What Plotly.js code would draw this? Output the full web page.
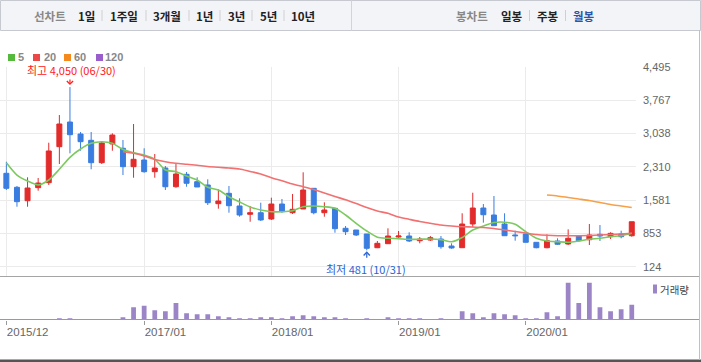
<!DOCTYPE html>
<html>
<head>
<meta charset="utf-8">
<script src="https://cdn.plot.ly/plotly-3.0.1.min.js"></script>
<style>
html,body{margin:0;padding:0;background:#fff;}
#chart{width:701px;height:362px;}
</style>
</head>
<body>
<div id="chart"></div>
<script>
// ---- data (monthly, 2015/12 .. 2020/11) ----
const months = ['2015/12',
 '2016/01','2016/02','2016/03','2016/04','2016/05','2016/06','2016/07','2016/08','2016/09','2016/10','2016/11','2016/12',
 '2017/01','2017/02','2017/03','2017/04','2017/05','2017/06','2017/07','2017/08','2017/09','2017/10','2017/11','2017/12',
 '2018/01','2018/02','2018/03','2018/04','2018/05','2018/06','2018/07','2018/08','2018/09','2018/10','2018/11','2018/12',
 '2019/01','2019/02','2019/03','2019/04','2019/05','2019/06','2019/07','2019/08','2019/09','2019/10','2019/11','2019/12',
 '2020/01','2020/02','2020/03','2020/04','2020/05','2020/06','2020/07','2020/08','2020/09','2020/10','2020/11'];

const openP  = [2165,1859,1566,1851,1960,2747,3286,3024,2886,2397,2806,2712,2310,2456,2200,2281,1872,2143,1982,1910,1501,1728,1451,1269,1304,1166,1494,1304,1385,1837,1304,1400,963,926,839,539,627,773,795,692,707,729,576,539,1057,1407,1254,1057,817,839,657,539,686,620,795,714,832,780,839,801];
const highP  = [2419,1888,2078,2063,2834,3439,4050,3068,3068,2856,3039,2893,3243,2712,2587,2325,2368,2194,2078,2034,1815,1888,1619,1451,1523,1632,1604,1713,2187,1837,1531,1413,1013,926,839,686,963,904,876,773,795,795,635,1291,1741,1494,1669,1291,911,853,657,832,745,941,817,1057,1035,876,911,1107];
const lowP   = [1800,1435,1435,1785,1910,2368,2602,2659,2253,2368,2659,2128,2069,2178,2069,1800,1851,1872,1866,1472,1392,1304,1217,1107,1123,1145,1304,1276,1385,1269,1217,867,817,795,481,530,627,758,664,635,686,517,517,539,985,1086,1020,801,692,657,526,526,598,598,670,598,686,729,745,780];
const closeP = [1837,1545,1844,1953,2653,3243,3009,2856,2397,2827,3002,2310,2471,2200,2281,1872,2150,1947,1866,1523,1560,1457,1254,1304,1145,1494,1326,1378,1800,1304,1363,955,889,817,526,635,795,795,686,729,758,561,533,1057,1407,1260,1020,801,801,657,539,692,614,745,692,817,795,853,780,1107];

const ma5 = [2397,2128,1997,1910,2019,2253,2515,2696,2821,2856,2821,2685,2615,2565,2471,2237,2200,2106,2019,1859,1800,1654,1538,1429,1363,1326,1326,1348,1435,1451,1435,1400,1254,1073,904,767,745,736,723,723,729,714,668,762,926,1013,1090,1097,1051,889,745,686,670,657,686,723,745,780,801,854];
const ma20 = [null,null,null,null,null,null,null,null,null,null,null,2637,2602,2543,2467,2419,2384,2362,2340,2314,2296,2281,2259,2205,2150,2069,2004,1931,1872,1811,1735,1658,1588,1505,1418,1341,1291,1210,1160,1112,1073,1035,1013,998,992,981,959,926,893,861,828,810,801,801,801,806,817,828,839,854];
const ma60 = [null,null,null,null,null,null,null,null,null,null,null,null,null,null,null,null,null,null,null,null,null,null,null,null,null,null,null,null,null,null,null,null,null,null,null,null,null,null,null,null,null,null,null,null,null,null,null,null,null,null,null,1691,1669,1636,1604,1571,1527,1483,1451,1418];

const volume = [0,0,0,0,0,13,13,0,0,0,0,23,123,137,93,83,163,63,53,53,33,23,13,13,23,23,13,33,43,33,23,23,13,5,13,0,23,13,13,13,0,13,0,83,63,23,63,53,43,13,13,73,33,367,163,367,123,83,103,147];

const priceTicks = [124,853,1581,2310,3038,3767,4495];
const dateTicks = ['2015/12','2017/01','2018/01','2019/01','2020/01'];
const maLegend = [['5','#55b93c'],['20','#ec4848'],['60','#f48a1e'],['120','#9a5dcc']];

// ---- helpers (page pixels -> paper) ----
const W = 701, H = 362;
const px = v => v / W;
const py = v => 1 - v / H;
const KR = '"Noto Sans CJK KR", "Noto Sans", sans-serif';
const NUM = '"Liberation Sans", Arial, sans-serif';

const RED = '#e22b2b', BLUE = '#3a7de0';

const traces = [
  {type:'candlestick', x:months, open:openP, high:highP, low:lowP, close:closeP,
   xaxis:'x', yaxis:'y', whiskerwidth:0,
   increasing:{line:{color:RED,width:1}, fillcolor:RED},
   decreasing:{line:{color:BLUE,width:1}, fillcolor:BLUE},
   showlegend:false, hoverinfo:'skip'},
  {type:'scatter', mode:'lines', x:months, y:ma5, xaxis:'x', yaxis:'y',
   line:{color:'#7cc95f', width:1.6, shape:'spline', smoothing:0.7}, showlegend:false, hoverinfo:'skip'},
  {type:'scatter', mode:'lines', x:months, y:ma20, xaxis:'x', yaxis:'y',
   line:{color:'#f27070', width:1.6, shape:'spline', smoothing:0.7}, showlegend:false, hoverinfo:'skip'},
  {type:'scatter', mode:'lines', x:months, y:ma60, xaxis:'x', yaxis:'y',
   line:{color:'#f7a04a', width:1.6, shape:'spline', smoothing:0.7}, showlegend:false, hoverinfo:'skip'},
  {type:'bar', x:months, y:volume, xaxis:'x2', yaxis:'y2', width:0.45,
   marker:{color:'#9b85c6', line:{width:0}}, showlegend:false, hoverinfo:'skip'}
];

const shapes = [];
const annotations = [];

// header
shapes.push({type:'rect', xref:'paper', yref:'paper', x0:px(0.5), x1:px(700.5), y0:py(0.5), y1:py(30.5),
  fillcolor:'#f3f4f7', line:{color:'#c6c9cf', width:1}, layer:'below'});
shapes.push({type:'line', xref:'paper', yref:'paper', x0:px(351.5), x1:px(351.5), y0:py(0.5), y1:py(30.5),
  line:{color:'#d2d4d8', width:1}});
const headerBtns = [['선차트',49.5,'#888'],['1일',86.5,'#222'],['1주일',124,'#222'],['3개월',167,'#222'],['1년',204,'#222'],['3년',236.5,'#222'],['5년',268.5,'#222'],['10년',303,'#222'],
                  ['봉차트',471.5,'#888'],['일봉',512,'#222'],['주봉',547.5,'#222'],['월봉',584,'#2b56a8']];
headerBtns.forEach(b => annotations.push({xref:'paper', yref:'paper', x:px(b[1]), y:py(15.5), text:'<b>'+b[0]+'</b>',
  showarrow:false, xanchor:'center', yanchor:'middle', font:{family:KR, size:11.5, color:b[2]}}));
[102,146,189,220,252,284,529.5,565.5].forEach(x => shapes.push({type:'line', xref:'paper', yref:'paper',
  x0:px(x), x1:px(x), y0:py(10), y1:py(21), line:{color:'#d0d0d0', width:1}}));

// MA legend
const legX = [[8,17],[33,43],[64,73],[96,104]];
maLegend.forEach((m,i) => {
  shapes.push({type:'rect', xref:'paper', yref:'paper', x0:px(legX[i][0]), x1:px(legX[i][0]+7), y0:py(54), y1:py(61),
    fillcolor:m[1], line:{width:0}});
  annotations.push({xref:'paper', yref:'paper', x:px(legX[i][1]), y:py(57), text:'<b>'+m[0]+'</b>', showarrow:false,
    xanchor:'left', yanchor:'middle', borderpad:0, font:{family:NUM, size:11, color:'#888'}});
});

// separators / frame
shapes.push({type:'line', xref:'paper', yref:'paper', x0:0, x1:px(700), y0:py(276.5), y1:py(276.5), line:{color:'#a5a5a5', width:1}});
shapes.push({type:'line', xref:'paper', yref:'paper', x0:0, x1:px(700), y0:py(319.5), y1:py(319.5), line:{color:'#9a9a9a', width:1}});
shapes.push({type:'rect', xref:'paper', yref:'paper', x0:0, x1:1, y0:py(362), y1:py(359.5), fillcolor:'#555', line:{width:0}});
shapes.push({type:'line', xref:'paper', yref:'paper', x0:px(699.5), x1:px(699.5), y0:py(30), y1:py(360), line:{color:'#c0c0c0', width:1}});

// volume legend
shapes.push({type:'rect', xref:'paper', yref:'paper', x0:px(653), x1:px(657), y0:py(284.5), y1:py(293.5), fillcolor:'#9b85c6', line:{width:0}});
annotations.push({xref:'paper', yref:'paper', x:px(658), y:py(289), text:'거래량', showarrow:false, xanchor:'left', yanchor:'middle',
  font:{family:KR, size:10.5, color:'#444'}});

// high / low marks: arrows
annotations.push({xref:'x', yref:'y', x:months[6], y:highP[6], text:'', showarrow:true, ax:0, ay:-9,
  arrowhead:4, arrowsize:1, arrowwidth:1.2, arrowcolor:'#ff2020', standoff:2});
annotations.push({xref:'x', yref:'y', x:months[34], y:lowP[34], text:'', showarrow:true, ax:0, ay:9,
  arrowhead:4, arrowsize:1, arrowwidth:1.2, arrowcolor:'#2a64d6', standoff:1});
// high / low labels
annotations.push({xref:'paper', yref:'paper', x:px(71), y:py(70), text:'최고 4,050 (06/30)', showarrow:false,
  xanchor:'center', yanchor:'middle', borderpad:0, font:{family:KR, size:11, color:'#ff2020'}});
annotations.push({xref:'paper', yref:'paper', x:px(366), y:py(268.5), text:'최저 481 (10/31)', showarrow:false,
  xanchor:'center', yanchor:'middle', borderpad:0, font:{family:KR, size:11, color:'#2a64d6'}});

const layout = {
  width:W, height:H, margin:{l:0,r:0,t:0,b:0}, paper_bgcolor:'#fff', plot_bgcolor:'rgba(0,0,0,0)',
  showlegend:false, boxgap:0.53, boxgroupgap:0, bargap:0.5,
  font:{family:KR, color:'#666', size:11},
  xaxis:{domain:[0, px(636)], anchor:'y', type:'category', range:[-0.6, 59.4], rangeslider:{visible:false},
    tickvals:dateTicks, showticklabels:false, ticks:'', showgrid:true, gridcolor:'#ebebeb', gridwidth:1, zeroline:false, showline:false, fixedrange:true},
  yaxis:{domain:[py(276.7), py(66.7)], range:[-94.5, 4495], side:'right', tickvals:priceTicks, tickformat:',d',
    showgrid:true, gridcolor:'#ebebeb', gridwidth:1, zeroline:false, showline:false, ticks:'', ticklabelstandoff:6,
    tickfont:{family:NUM, size:11, color:'#666'}, fixedrange:true},
  xaxis2:{domain:[0, px(636)], anchor:'y2', matches:'x', type:'category', tickvals:dateTicks, showgrid:false, zeroline:false,
    showline:false, ticks:'outside', ticklen:4, tickcolor:'#999', tickwidth:1, ticklabelposition:'outside right', ticklabelstandoff:2,
    tickfont:{family:NUM, size:11.5, color:'#666'}, fixedrange:true},
  yaxis2:{domain:[py(319.5), py(276.7)], range:[0, 426], showticklabels:false, showgrid:false, zeroline:false, showline:false, fixedrange:true},
  shapes:shapes, annotations:annotations
};

Plotly.newPlot('chart', traces, layout, {displayModeBar:false, staticPlot:true});
</script>
</body>
</html>
